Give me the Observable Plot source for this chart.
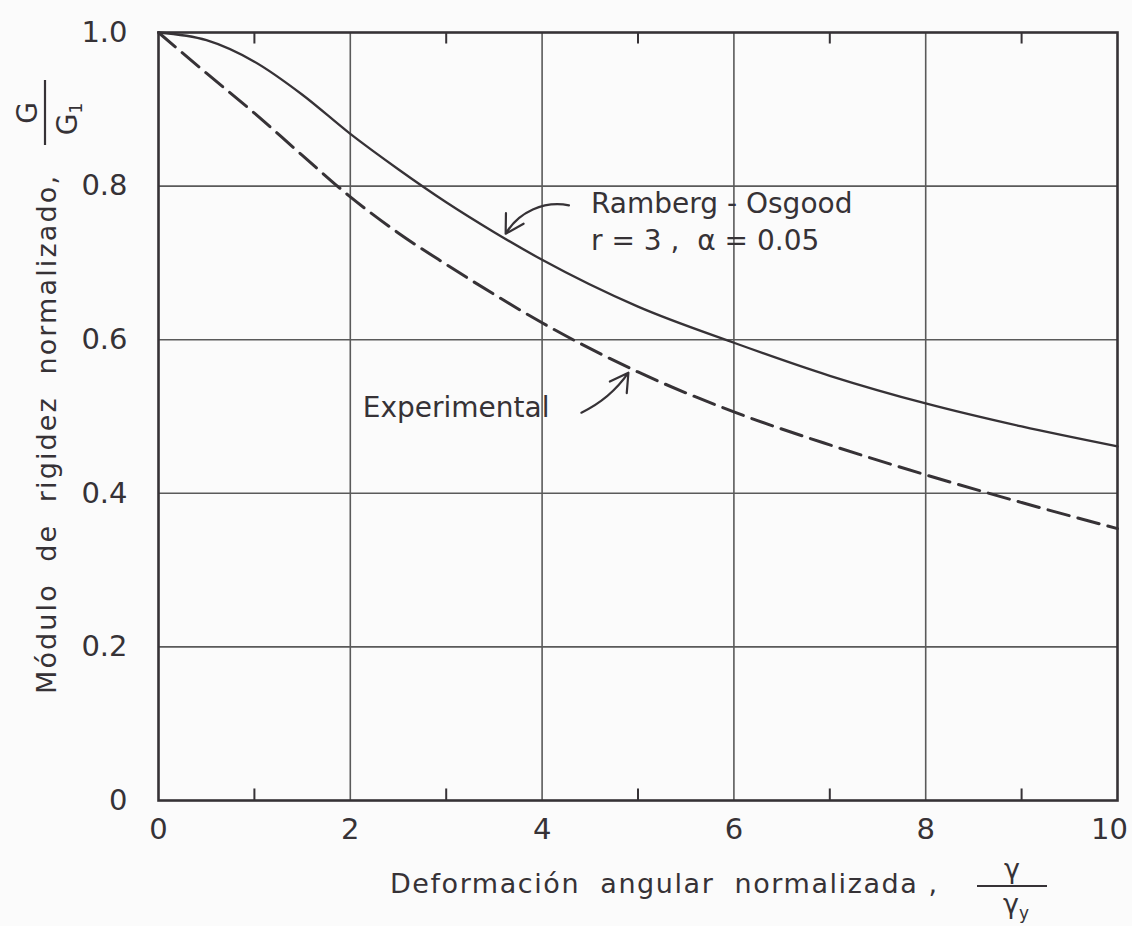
<!DOCTYPE html>
<html><head><meta charset="utf-8">
<script src="https://cdn.jsdelivr.net/npm/d3@7"></script>
<script src="https://cdn.jsdelivr.net/npm/@observablehq/plot@0.6"></script>
<style>
html,body{margin:0;padding:0;background:#fbfbfb;}
svg text{font-family:"DejaVu Sans",sans-serif;}
</style></head><body><div id="chart"></div>
<script>
// normalized strain gamma/gamma_y
const strain = [0, 0.5, 1, 1.5, 2, 2.5, 3, 3.5, 4, 5, 6, 7, 8, 9, 10];
// Ramberg-Osgood curve (r=3, alpha=0.05), G/G1
const ramberg = [1.0, 0.990, 0.962, 0.919, 0.868, 0.822, 0.779, 0.740, 0.704, 0.643, 0.596, 0.553, 0.517, 0.487, 0.461];
// Experimental curve, G/G1
const experimental = [1.0, 0.947, 0.895, 0.840, 0.786, 0.739, 0.698, 0.659, 0.622, 0.558, 0.506, 0.463, 0.424, 0.388, 0.354];

const xTicks = [0, 2, 4, 6, 8, 10];
const xTickLabels = ["0", "2", "4", "6", "8", "10"];
const yTicks = [0, 0.2, 0.4, 0.6, 0.8, 1.0];
const yTickLabels = ["0", "0.2", "0.4", "0.6", "0.8", "1.0"];
const xMinor = [1, 3, 5, 7, 9];
const xGrid = [2, 4, 6, 8];
const yGrid = [0.2, 0.4, 0.6, 0.8];

const seriesNames = ["Ramberg - Osgood", "Experimental"];
const paramLabel = "r = 3 ,  α = 0.05";
const xTitle = "Deformación  angular  normalizada ,";
const yTitle = "Módulo  de  rigidez  normalizado,";

const ink = "#363236";
const rows = strain.map((s, i) => ({s, r: ramberg[i], e: experimental[i]}));

const arrows = [
  {x1: 4.28, y1: 0.775, x2: 3.62, y2: 0.738},
  {x1: 4.41, y1: 0.505, x2: 4.90, y2: 0.557}
];
const notes = [
  {x: 4.51, y: 0.777, t: seriesNames[0]},
  {x: 4.51, y: 0.728, t: paramLabel},
  {x: 2.13, y: 0.511, t: seriesNames[1]}
];

const fmtX = d => xTickLabels[xTicks.indexOf(d)];
const chart = Plot.plot({
  width: 1132, height: 926,
  marginLeft: 158, marginRight: 15, marginTop: 32, marginBottom: 126,
  style: {background: "transparent", color: ink, fontFamily: "DejaVu Sans, sans-serif"},
  x: {domain: [0, 10]},
  y: {domain: [0, 1]},
  marks: [
    Plot.gridX(xGrid, {stroke: "#5a5a5a", strokeOpacity: 1, strokeWidth: 1.6}),
    Plot.gridY(yGrid, {stroke: "#5a5a5a", strokeOpacity: 1, strokeWidth: 1.6}),
    Plot.ruleX(xMinor, {y1: 0, y2: 0.015, stroke: ink, strokeWidth: 2}),
    Plot.ruleX(xMinor, {y1: 1, y2: 0.985, stroke: ink, strokeWidth: 2}),
    Plot.frame({stroke: ink, strokeWidth: 2.6}),
    Plot.axisX(xTicks.slice(0, 5), {tickSize: 0, tickPadding: 18, fontSize: 29, label: null, tickFormat: fmtX}),
    Plot.axisX(xTicks.slice(5), {tickSize: 0, tickPadding: 18, fontSize: 29, label: null, tickFormat: fmtX, dx: -8}),
    Plot.axisY(yTicks, {tickSize: 0, tickPadding: 31, fontSize: 29, label: null,
      tickFormat: d => yTickLabels[yTicks.indexOf(d)]}),
    Plot.line(rows, {x: "s", y: "r", curve: "monotone-x", stroke: ink, strokeWidth: 2.3}),
    Plot.line(rows, {x: "s", y: "e", curve: "monotone-x", stroke: ink, strokeWidth: 3, strokeDasharray: "22,9"}),
    Plot.arrow(arrows.slice(0, 1), {x1: "x1", y1: "y1", x2: "x2", y2: "y2", bend: -35, stroke: ink, strokeWidth: 2.2, headLength: 14}),
    Plot.arrow(arrows.slice(1), {x1: "x1", y1: "y1", x2: "x2", y2: "y2", bend: -15, stroke: ink, strokeWidth: 2.2, headLength: 14}),
    Plot.text(notes, {x: "x", y: "y", text: "t", textAnchor: "start", fontSize: 28, fill: ink})
  ]
});

const svg = d3.select(chart);
// x-axis title
svg.append("text").attr("x", 390).attr("y", 893).attr("fill", ink).attr("text-anchor", "start")
  .attr("font-size", 27).attr("textLength", 547).attr("lengthAdjust", "spacing")
  .text(xTitle);
svg.append("line").attr("x1", 977).attr("x2", 1047).attr("y1", 886).attr("y2", 886)
  .attr("stroke", ink).attr("stroke-width", 2.2);
svg.append("text").attr("x", 1012).attr("y", 878).attr("text-anchor", "middle")
  .attr("fill", ink).attr("font-size", 27).text("γ");
const den = svg.append("text").attr("x", 1016).attr("y", 913).attr("text-anchor", "middle")
  .attr("fill", ink).attr("font-size", 27);
den.append("tspan").text("γ");
den.append("tspan").attr("font-size", 17).attr("dy", 6).text("y");

// y-axis title
svg.append("text").attr("transform", "translate(56,694) rotate(-90)").attr("fill", ink).attr("text-anchor", "start")
  .attr("font-size", 27).attr("textLength", 518).attr("lengthAdjust", "spacing")
  .text(yTitle);
svg.append("text").attr("transform", "translate(37,113) rotate(-90)").attr("text-anchor", "middle")
  .attr("fill", ink).attr("font-size", 28).text("G");
svg.append("line").attr("x1", 45).attr("x2", 45).attr("y1", 80).attr("y2", 145)
  .attr("stroke", ink).attr("stroke-width", 2.2);
const gden = svg.append("text").attr("transform", "translate(77,119) rotate(-90)").attr("text-anchor", "middle")
  .attr("fill", ink).attr("font-size", 28);
gden.append("tspan").text("G");
gden.append("tspan").attr("font-size", 17).attr("dy", 5).text("1");

document.getElementById("chart").appendChild(chart);
</script></body></html>
